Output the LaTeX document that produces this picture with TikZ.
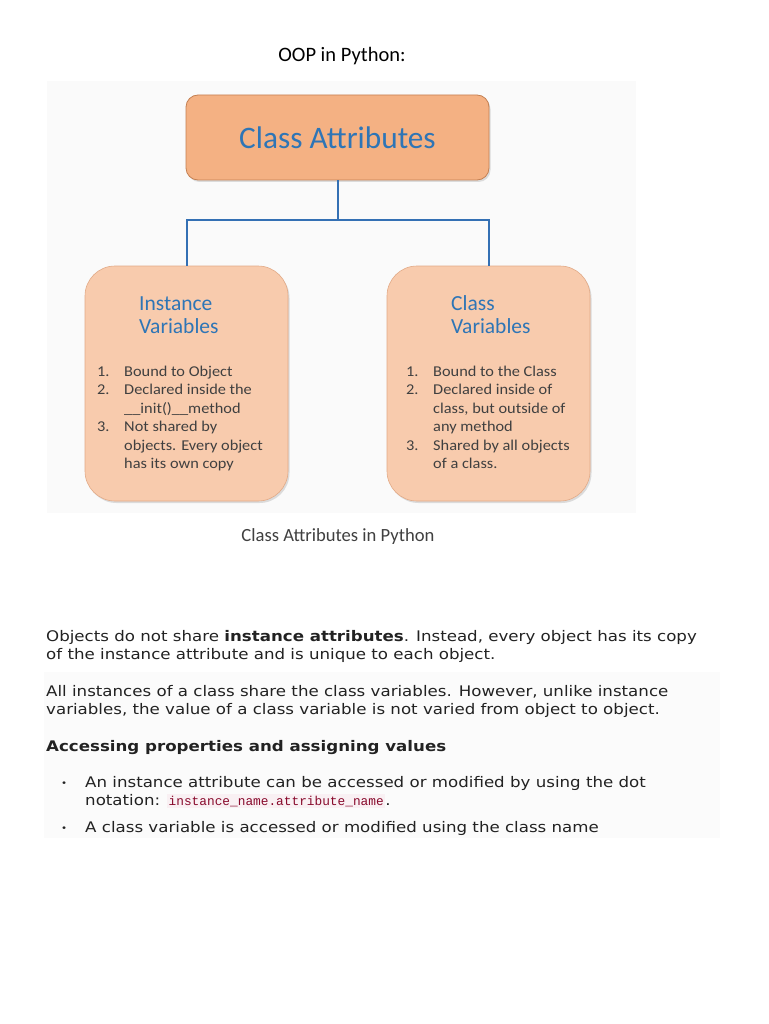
\documentclass[tikz,border=0pt]{standalone}
\usepackage{fontspec}
\usepackage{xcolor}
\usepackage{tikz}
\usetikzlibrary{positioning, shadows, calc}
\setmainfont{Carlito}
\newfontfamily\listfont{Carlito}[FakeStretch=1.09]
\newfontfamily\bodyfont{DejaVu Sans}[FakeStretch=1.14]
\newfontfamily\codefont{Liberation Mono}
\definecolor{topfill}{RGB}{244,177,131}
\definecolor{topedge}{RGB}{196,128,82}
\definecolor{varfill}{RGB}{248,203,173}
\definecolor{varedge}{RGB}{226,170,135}
\definecolor{headblue}{RGB}{46,117,182}
\definecolor{linkblue}{RGB}{52,112,180}
\definecolor{listgray}{RGB}{64,64,64}
\definecolor{bodyink}{RGB}{34,34,34}
\definecolor{codered}{RGB}{136,10,44}
\definecolor{codebg}{RGB}{249,240,243}
\newcommand{\code}[1]{{\setlength{\fboxsep}{1.5pt}\colorbox{codebg}{\codefont\fontsize{12.8}{14}\selectfont\color{codered}#1}}}
\newcommand{\smallbullet}{\raisebox{0.6pt}{\fontsize{9}{9}\selectfont\textbullet}}

\begin{document}
\begin{tikzpicture}[x=1pt, y=-1pt,
    topbox/.style={draw=topedge, line width=0.8pt, fill=topfill, rounded corners=12pt,
                   minimum width=303pt, minimum height=85pt, inner sep=0pt,
                   drop shadow={opacity=0.25, shadow xshift=1.5pt, shadow yshift=-2pt}},
    varbox/.style={draw=varedge, line width=0.6pt, fill=varfill, rounded corners=30pt,
                   minimum width=203pt, minimum height=235pt, inner sep=0pt,
                   drop shadow={opacity=0.25, shadow xshift=1.5pt, shadow yshift=-2pt}},
    vartitle/.style={anchor=base west, inner sep=0pt, text=headblue,
                     font=\fontsize{21.5}{23}\selectfont},
    vlist/.style={anchor=base west, inner sep=0pt, text=listgray,
                  font=\listfont\fontsize{15}{18.5}\selectfont},
    para/.style={anchor=base west, inner sep=0pt, text=bodyink,
                 font=\bodyfont\fontsize{14.6}{18}\selectfont},
    link/.style={draw=linkblue, line width=2pt}
]
\useasboundingbox (0,0) rectangle (768,1024);
\fill[white] (0,0) rectangle (768,1024);
% faint page backgrounds
\fill[black!2] (47,81) rectangle (636,513);
\fill[black!1.5] (44,672) rectangle (720,838);

\node[anchor=base, inner sep=0pt, font=\fontsize{20.5}{22}\selectfont] (title) at (342,62) {OOP in Python:};

% diagram
\node[topbox] (attrs) at (337.5,137.5) {};
\node[text=headblue, inner sep=0pt, font=\fontsize{31.3}{34}\selectfont] (attrslabel) at (attrs.center) {Class Attributes};
\node[varbox] (inst) at (186.5,383.5) {};
\node[varbox] (cls) at (488.5,383.5) {};
\coordinate (split) at (337.5,220);
\draw[link] (attrs.south) -- (split);
\draw[link] (split) -| (inst.north);
\draw[link] (split) -| (cls.north);

\node[vartitle] (insttitle) at (139,310) {\begin{tabular}[t]{@{}l@{}}Instance\\Variables\end{tabular}};
\node[vartitle] (clstitle) at (451,310) {\begin{tabular}[t]{@{}l@{}}Class\\Variables\end{tabular}};

\node[vlist] (instlist) at (97,376) {\begin{tabular}[t]{@{}p{27pt}@{}l@{}}
1. & Bound to Object\\
2. & Declared inside the\\
   & \_\_init()\_\_method\\
3. & Not shared by\\
   & objects. Every object\\
   & has its own copy
\end{tabular}};
\node[vlist] (clslist) at (406,376) {\begin{tabular}[t]{@{}p{27pt}@{}l@{}}
1. & Bound to the Class\\
2. & Declared inside of\\
   & class, but outside of\\
   & any method\\
3. & Shared by all objects\\
   & of a class.
\end{tabular}};

\node[anchor=base, inner sep=0pt, text=listgray, font=\fontsize{18.6}{20}\selectfont] (caption) at (338,541) {Class Attributes in Python};

% text below
\node[para] (para1) at (46,641) {\begin{tabular}[t]{@{}l@{}}
Objects do not share \textbf{instance attributes}. Instead, every object has its copy\\
of the instance attribute and is unique to each object.
\end{tabular}};
\node[para] (para2) at (46,696) {\begin{tabular}[t]{@{}l@{}}
All instances of a class share the class variables. However, unlike instance\\
variables, the value of a class variable is not varied from object to object.
\end{tabular}};
\node[para, font=\bodyfont\bfseries\fontsize{14.6}{18}\selectfont] (heading) at (46,751) {Accessing properties and assigning values};
\node[para] (bul1) at (61,787) {\begin{tabular}[t]{@{}p{24pt}@{}l@{}}
\smallbullet & An instance attribute can be accessed or modified by using the dot\\
 & notation: \code{instance\_name.attribute\_name}.
\end{tabular}};
\node[para] (bul2) at (61,832) {\begin{tabular}[t]{@{}p{24pt}@{}l@{}}
\smallbullet & A class variable is accessed or modified using the class name
\end{tabular}};
\end{tikzpicture}
\end{document}
